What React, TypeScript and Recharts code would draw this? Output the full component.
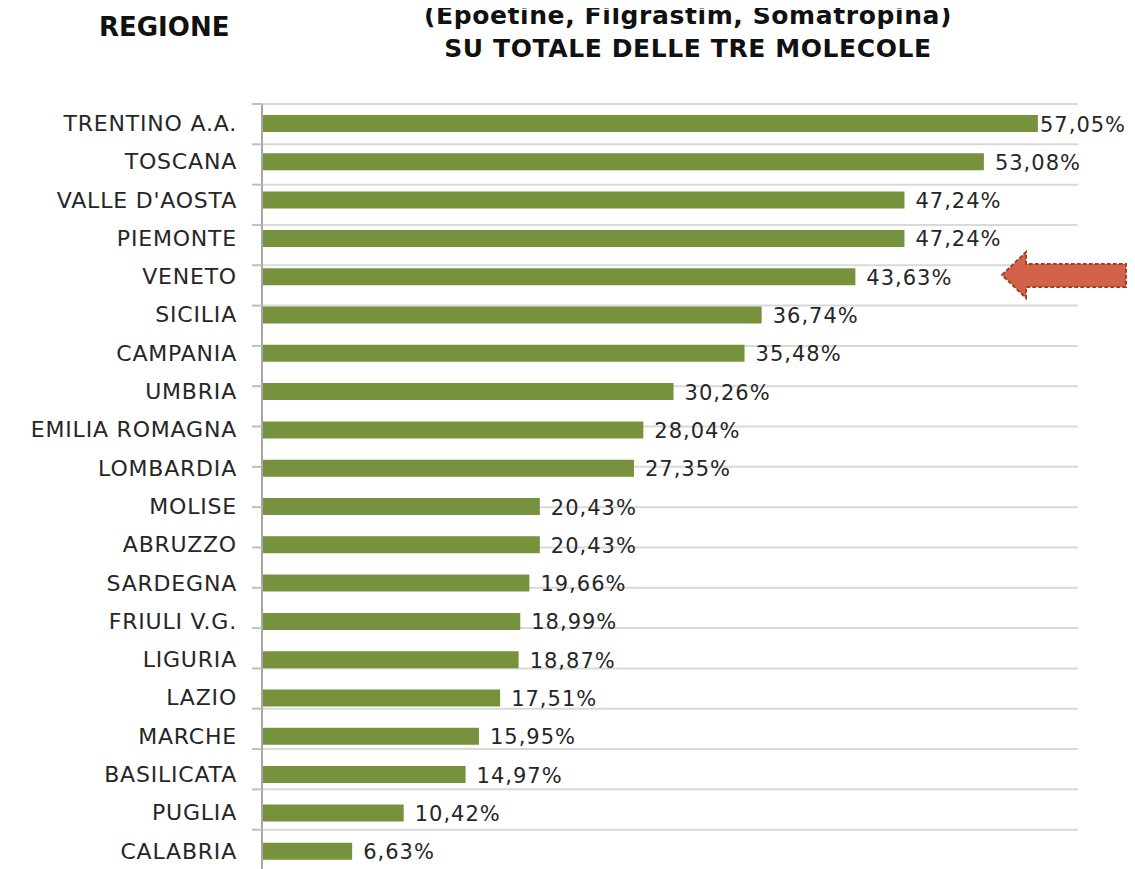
import { BarChart, Bar, XAxis, YAxis, CartesianGrid, LabelList } from "recharts";

const regioni = [
  "TRENTINO A.A.", "TOSCANA", "VALLE D'AOSTA", "PIEMONTE", "VENETO",
  "SICILIA", "CAMPANIA", "UMBRIA", "EMILIA ROMAGNA", "LOMBARDIA",
  "MOLISE", "ABRUZZO", "SARDEGNA", "FRIULI V.G.", "LIGURIA",
  "LAZIO", "MARCHE", "BASILICATA", "PUGLIA", "CALABRIA",
];
const quote = [
  57.05, 53.08, 47.24, 47.24, 43.63,
  36.74, 35.48, 30.26, 28.04, 27.35,
  20.43, 20.43, 19.66, 18.99, 18.87,
  17.51, 15.95, 14.97, 10.42, 6.63,
];
const gridTicks = Array.from({ length: regioni.length + 1 }, (_, i) => i);

const data = regioni.map((r, i) => ({ regione: r, quota: quote[i] }));

const W = 1127;
const H = 864;
const GREEN = "#76923C";
const FONT = "'DejaVu Sans', Verdana, sans-serif";

const fmt = (v: number) => v.toFixed(2).replace(".", ",") + "%";

function ValueLabel(props: any) {
  const { x, y, width, height, value } = props;
  const lx = Math.min(x + width + 11, W - 95);
  return (
    <text x={lx} y={y + height / 2 + 1} dominantBaseline="central" fontFamily={FONT}
      fontSize={21} letterSpacing={1} fill="#262626">
      {fmt(value)}
    </text>
  );
}

export default function App() {
  return (
    <div style={{ position: "relative", width: W, height: 861 }}>
      <div style={{ position: "absolute", left: 91, top: 4, fontFamily: FONT, fontWeight: "bold", fontSize: 26, color: "#111" }}>
        REGIONE
      </div>
      <div style={{ position: "absolute", left: 380, width: 600, top: -9, textAlign: "center", fontFamily: FONT, fontWeight: "bold", fontSize: 25, letterSpacing: 0.6, lineHeight: "33px", color: "#111" }}>
        (Epoetine, Filgrastim, Somatropina)
        <br />
        SU TOTALE DELLE TRE MOLECOLE
      </div>
      <BarChart width={W} height={H} data={data} layout="vertical"
        margin={{ top: 96, right: 57, bottom: 2, left: 0 }}>
        <CartesianGrid yAxisId={0} vertical={false} stroke="#D9D9D9" strokeWidth={2} />
        <XAxis type="number" domain={[0, 60]} hide />
        <YAxis yAxisId={0} type="number" domain={[0, regioni.length]} ticks={gridTicks}
          width={10} tickSize={10} tickFormatter={() => ""} interval={0}
          axisLine={{ stroke: "#A6A6A6", strokeWidth: 2 }} tickLine={{ stroke: "#BFBFBF", strokeWidth: 2 }} />
        <YAxis yAxisId={1} type="category" dataKey="regione" width={244} interval={0}
          axisLine={false} tickLine={false} tickMargin={9}
          tick={{ fontFamily: FONT, fontSize: 22, letterSpacing: 0.8, fill: "#262626" }} />
        <Bar yAxisId={1} dataKey="quota" fill={GREEN} barSize={17} isAnimationActive={false}>
          <LabelList dataKey="quota" content={ValueLabel} />
        </Bar>
      </BarChart>
      <svg style={{ position: "absolute", left: 0, top: 0, pointerEvents: "none" }} width={W} height={861}>
        <polygon points="994,267 1018,244 1018,256 1118,256 1118,279 1018,279 1018,290"
          fill="#D3624A" stroke="#A23F2C" strokeWidth={2} strokeDasharray="4 2" />
      </svg>
    </div>
  );
}
